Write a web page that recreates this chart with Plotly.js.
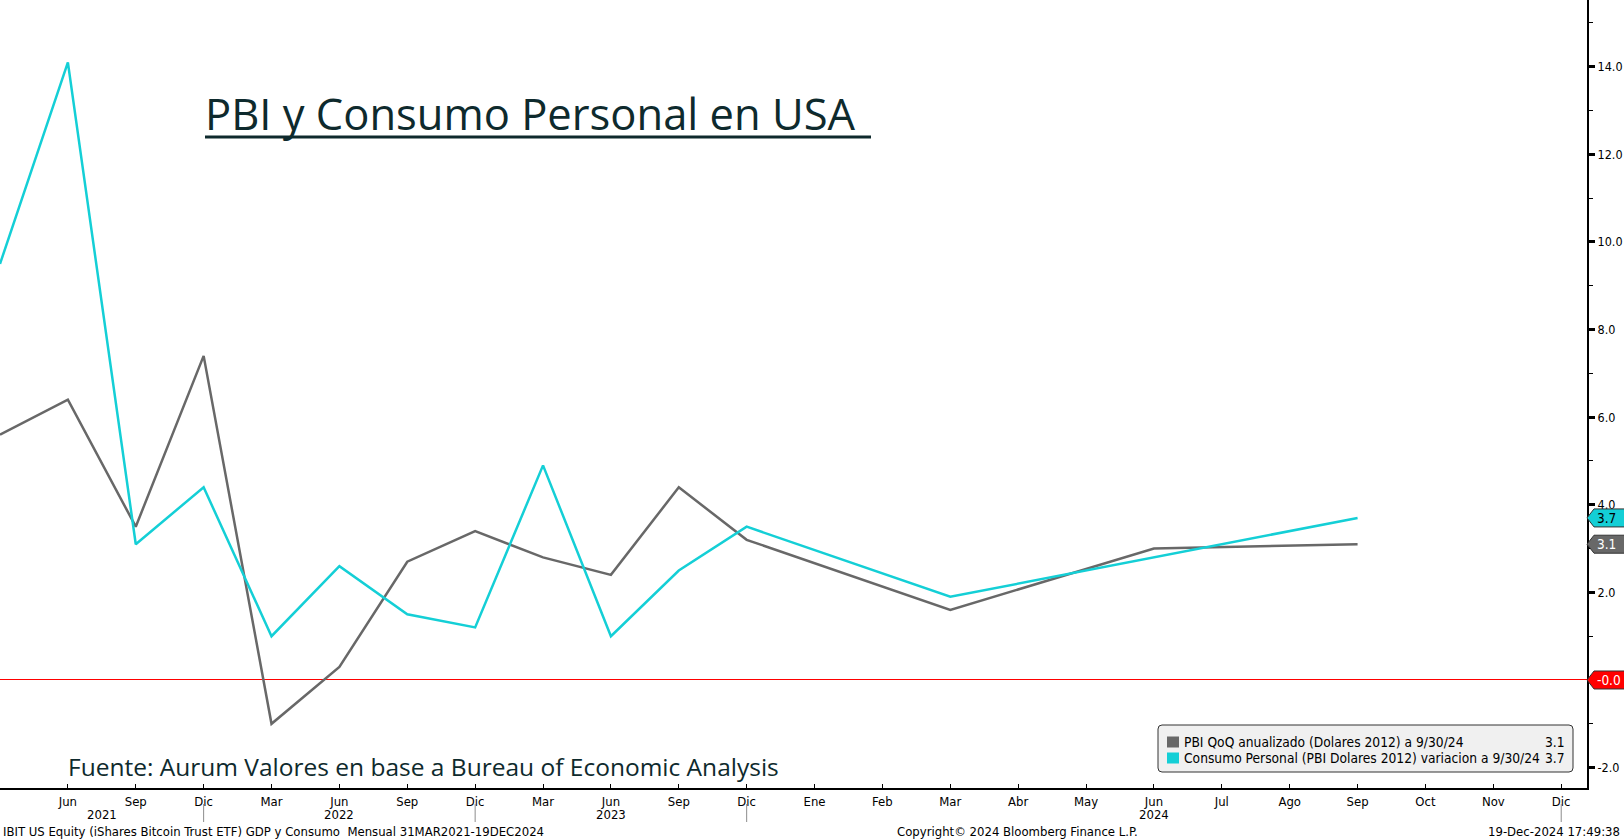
<!DOCTYPE html>
<html>
<head>
<meta charset="utf-8">
<script src="https://cdn.plot.ly/plotly-3.0.1.min.js"></script>
<style>
  html, body { margin: 0; padding: 0; background: #fff; }
  #chart { width: 1624px; height: 840px; }
</style>
</head>
<body>
<div id="chart"></div>
<script>
// x axis: quarters until Dic 2023, then months (Bloomberg mixed scale)
const periods = [
  'Mar 2021', 'Jun 2021', 'Sep 2021', 'Dic 2021',
  'Mar 2022', 'Jun 2022', 'Sep 2022', 'Dic 2022',
  'Mar 2023', 'Jun 2023', 'Sep 2023', 'Dic 2023',
  'Ene 2024', 'Feb 2024', 'Mar 2024', 'Abr 2024', 'May 2024', 'Jun 2024',
  'Jul 2024', 'Ago 2024', 'Sep 2024', 'Oct 2024', 'Nov 2024', 'Dic 2024'
];
const quarters = [
  'Mar 2021', 'Jun 2021', 'Sep 2021', 'Dic 2021',
  'Mar 2022', 'Jun 2022', 'Sep 2022', 'Dic 2022',
  'Mar 2023', 'Jun 2023', 'Sep 2023', 'Dic 2023',
  'Mar 2024', 'Jun 2024', 'Sep 2024'
];
const pbi = [5.6, 6.4, 3.5, 7.4, -1.0, 0.3, 2.7, 3.4, 2.8, 2.4, 4.4, 3.2, 1.6, 3.0, 3.1];
const consumo = [9.5, 14.1, 3.1, 4.4, 1.0, 2.6, 1.5, 1.2, 4.9, 1.0, 2.5, 3.5, 1.9, 2.8, 3.7];
const years = ['2021', '2022', '2023', '2024'];
const yTicks = [-2, 2, 4, 6, 8, 10, 12, 14];

const pbiName = 'PBI QoQ anualizado (Dolares 2012) a 9/30/24';
const consumoName = 'Consumo Personal (PBI Dolares 2012) variacion a 9/30/24';

const grayColor = '#686868';
const cyanColor = '#14cfd6';
const titleColor = '#0e2a2d';
const bbgFont = 'DejaVu Sans Condensed, Liberation Sans Narrow, sans-serif';
const titleFont = 'Open Sans, Lato, sans-serif';

// plot area in page pixels
const plotR = 1587, plotB = 788;
const px = x => x / plotR;
const py = y => (plotB - y) / plotB;
const yRange = [-2.466, 15.525];
const vy = v => (v - yRange[0]) / (yRange[1] - yRange[0]);

const traces = [
  {
    x: quarters, y: pbi, name: pbiName,
    type: 'scatter', mode: 'lines',
    line: { color: grayColor, width: 2.5 },
    showlegend: false, hoverinfo: 'x+y'
  },
  {
    x: quarters, y: consumo, name: consumoName,
    type: 'scatter', mode: 'lines',
    line: { color: cyanColor, width: 2.5 },
    showlegend: false, hoverinfo: 'x+y'
  }
];

const shapes = [];
const annotations = [];

// title + underline
annotations.push({
  text: 'PBI y Consumo Personal en USA', xref: 'paper', yref: 'paper',
  x: px(203), y: py(113), xanchor: 'left', yanchor: 'middle', showarrow: false,
  font: { family: titleFont, size: 43.5, weight: 500, color: titleColor }
});
shapes.push({
  type: 'line', xref: 'paper', yref: 'paper', layer: 'above',
  x0: px(205), x1: px(871), y0: py(137), y1: py(137),
  line: { color: titleColor, width: 3 }
});

annotations.push({
  text: 'Fuente: Aurum Valores en base a Bureau of Economic Analysis',
  xref: 'paper', yref: 'paper', x: px(66), y: py(766),
  xanchor: 'left', yanchor: 'middle', showarrow: false,
  font: { family: titleFont, size: 24.5, color: titleColor }
});

// year labels centred in each year's span, separators at Dic
let prev = 0;
years.forEach(yr => {
  const end = periods.indexOf('Dic ' + yr);
  annotations.push({
    text: yr, xref: 'x', yref: 'paper', x: (prev + end) / 2, y: py(814),
    xanchor: 'center', yanchor: 'middle', showarrow: false,
    font: { family: bbgFont, size: 13, color: '#000' }
  });
  shapes.push({
    type: 'line', xref: 'x', yref: 'paper', x0: end, x1: end,
    y0: py(804), y1: py(822), line: { color: '#8c8c8c', width: 1 }
  });
  prev = end;
});

// right-hand value tags
function addTag(value, label, fill, textColor) {
  shapes.push({
    type: 'path', layer: 'above',
    xref: 'paper', yref: 'paper',
    xsizemode: 'pixel', ysizemode: 'pixel',
    xanchor: 1, yanchor: vy(value),
    path: 'M0,0 L7,-9 L38,-9 L38,9 L7,9 Z',
    fillcolor: fill, line: { color: '#333', width: 1 }
  });
  annotations.push({
    text: label, xref: 'paper', yref: 'y', x: 1, y: value,
    xanchor: 'left', yanchor: 'middle', xshift: 8, showarrow: false,
    font: { family: bbgFont, size: 13.5, color: textColor }
  });
}
addTag(consumo[consumo.length - 1], consumo[consumo.length - 1].toFixed(1), cyanColor, '#000');
addTag(pbi[pbi.length - 1], pbi[pbi.length - 1].toFixed(1), grayColor, '#fff');
addTag(0, '-0.0', '#ff0000', '#fff');

// legend box (rounded, drawn around its centre in pixels)
shapes.push({
  type: 'path', xref: 'paper', yref: 'paper', layer: 'above',
  xsizemode: 'pixel', ysizemode: 'pixel',
  xanchor: px((1158 + 1573) / 2), yanchor: py((725 + 772) / 2),
  path: 'M-203.5,-23.5 L203.5,-23.5 Q207.5,-23.5 207.5,-19.5 L207.5,19.5 Q207.5,23.5 203.5,23.5 ' +
        'L-203.5,23.5 Q-207.5,23.5 -207.5,19.5 L-207.5,-19.5 Q-207.5,-23.5 -203.5,-23.5 Z',
  fillcolor: '#f0f0f0', line: { color: '#333', width: 1 }
});
[[pbiName, pbi, grayColor, 742], [consumoName, consumo, cyanColor, 758]].forEach(([name, vals, color, rowY]) => {
  shapes.push({
    type: 'rect', xref: 'paper', yref: 'paper', layer: 'above',
    x0: px(1167), x1: px(1179), y0: py(rowY + 5.5), y1: py(rowY - 5.5),
    fillcolor: color, line: { width: 0 }
  });
  annotations.push({
    text: name, xref: 'paper', yref: 'paper', x: px(1182), y: py(rowY),
    xanchor: 'left', yanchor: 'middle', showarrow: false,
    font: { family: bbgFont, size: 13.7, color: '#000' }
  });
  annotations.push({
    text: vals[vals.length - 1].toFixed(1), xref: 'paper', yref: 'paper', x: px(1567), y: py(rowY),
    xanchor: 'right', yanchor: 'middle', showarrow: false,
    font: { family: bbgFont, size: 13.7, color: '#000' }
  });
});

// footer
const footFont = { family: bbgFont, size: 13, color: '#000' };
annotations.push(
  { text: 'IBIT US Equity (iShares Bitcoin Trust ETF) GDP y Consumo  Mensual 31MAR2021-19DEC2024',
    xref: 'paper', yref: 'paper', x: px(1), y: py(831), xanchor: 'left', yanchor: 'middle',
    showarrow: false, font: footFont },
  { text: 'Copyright© 2024 Bloomberg Finance L.P.',
    xref: 'paper', yref: 'paper', x: px(1017), y: py(831), xanchor: 'center', yanchor: 'middle',
    showarrow: false, font: footFont },
  { text: '19-Dec-2024 17:49:38',
    xref: 'paper', yref: 'paper', x: px(1622), y: py(831), xanchor: 'right', yanchor: 'middle',
    showarrow: false, font: footFont }
);

const layout = {
  width: 1624, height: 840,
  margin: { l: 0, r: 1624 - plotR, t: 0, b: 840 - plotB, pad: 0 },
  paper_bgcolor: '#fff', plot_bgcolor: '#fff',
  showlegend: false,
  xaxis: {
    type: 'category', categoryorder: 'array', categoryarray: periods,
    range: [0, 23.38],
    tickmode: 'array', tickvals: periods.slice(1),
    ticktext: periods.slice(1).map(p => p.split(' ')[0]),
    ticks: 'inside', ticklen: 4, tickwidth: 1, tickcolor: '#000',
    showgrid: false, zeroline: false,
    showline: true, linecolor: '#000', linewidth: 2,
    tickfont: { family: bbgFont, size: 13, color: '#000' },
    fixedrange: true
  },
  yaxis: {
    side: 'right', range: yRange,
    tickmode: 'array', tickvals: yTicks,
    ticktext: yTicks.map(v => v.toFixed(1)),
    ticks: 'outside', ticklen: 6, tickwidth: 3, tickcolor: '#000',
    minor: { dtick: 1, tick0: 0, ticks: 'outside', ticklen: 4, tickwidth: 1, tickcolor: '#000' },
    showgrid: false,
    zeroline: true, zerolinecolor: '#ff0000', zerolinewidth: 1,
    showline: true, linecolor: '#000', linewidth: 2,
    tickfont: { family: bbgFont, size: 12.5, color: '#000' },
    fixedrange: true
  },
  shapes: shapes,
  annotations: annotations
};

Plotly.newPlot('chart', traces, layout, { displayModeBar: false, staticPlot: true });
</script>
</body>
</html>
